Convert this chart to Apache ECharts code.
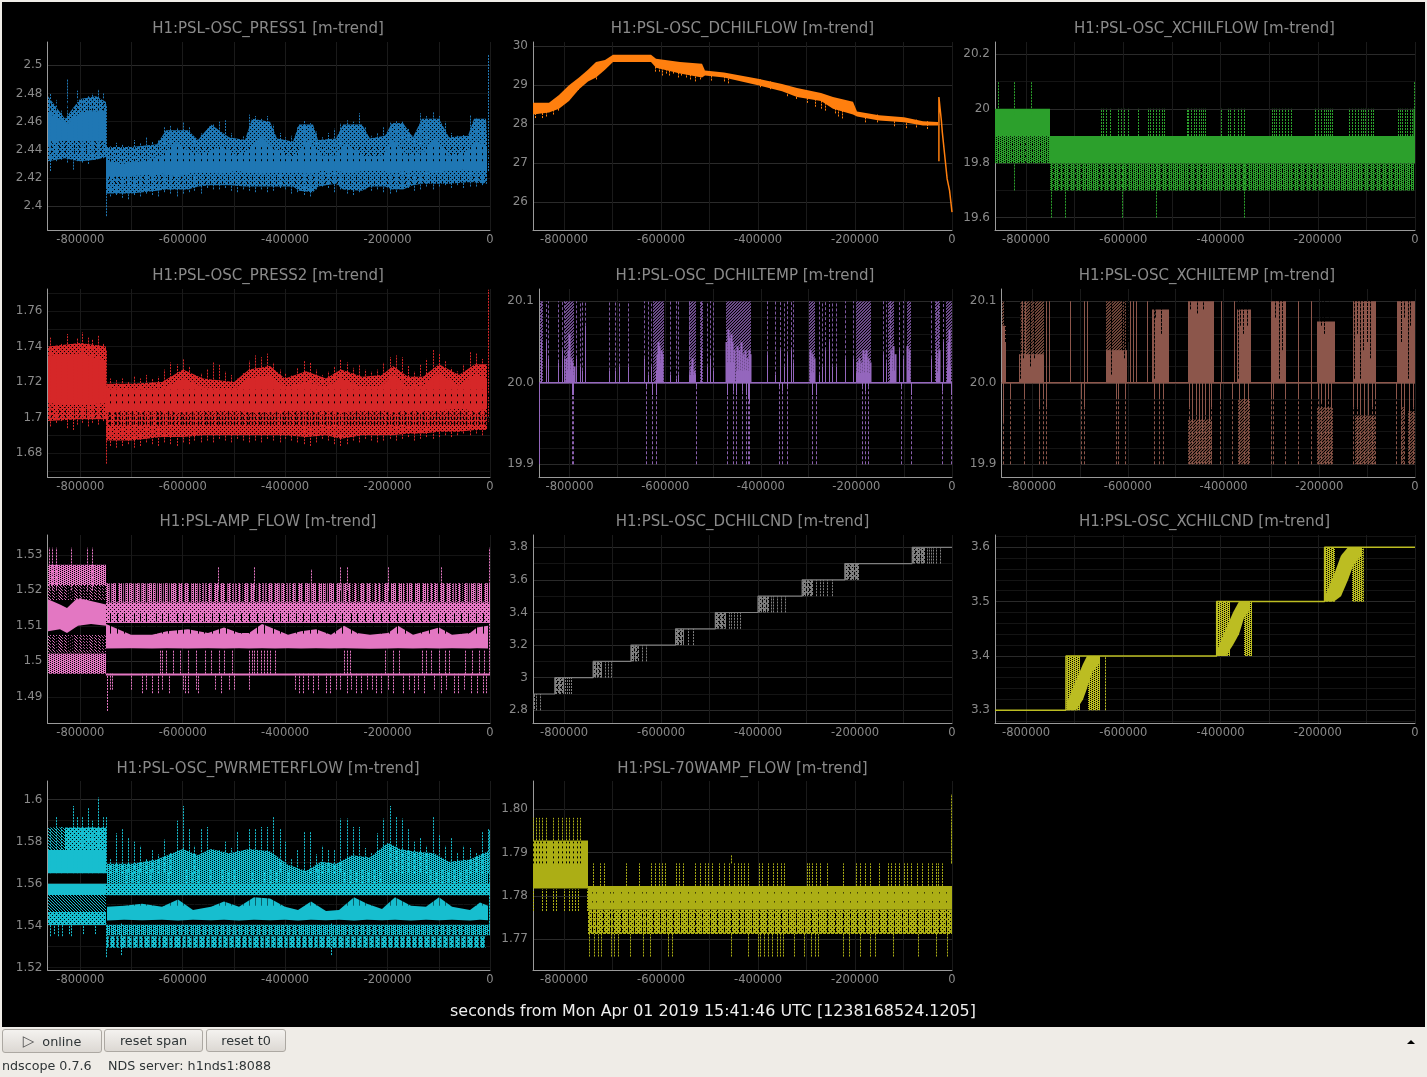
<!DOCTYPE html>
<html><head><meta charset="utf-8">
<style>
html,body{margin:0;padding:0;width:1427px;height:1077px;background:#efece7;overflow:hidden;font-family:"DejaVu Sans",sans-serif;}
#c{position:absolute;left:0;top:0;width:1427px;height:1077px;}
.b{position:absolute;box-sizing:border-box;border:1px solid #aca8a2;border-radius:3px;background:linear-gradient(#f4f2ef,#dcd8d3);font-size:12.8px;color:#2e3436;text-align:center;line-height:21px;}
.f{position:absolute;font-size:12.7px;color:#2e3436;top:1058px;line-height:16px;}
</style>
<script src="https://cdn.jsdelivr.net/npm/echarts@6/dist/echarts.min.js"></script>
</head><body>
<div id="c"></div>
<div class="b" style="left:2px;top:1029px;width:100px;height:24px;line-height:23px"><span style="color:#555;font-size:15px;position:relative;top:0px">▷</span>&nbsp; online</div>
<div class="b" style="left:104px;top:1029px;width:99px;height:23px;">reset span</div>
<div class="b" style="left:206px;top:1029px;width:80px;height:23px;">reset t0</div>
<div class="f" style="left:2px">ndscope 0.7.6</div>
<div class="f" style="left:108px">NDS server: h1nds1:8088</div>
<div style="position:absolute;left:1407px;top:1040px;width:0;height:0;border-left:4px solid transparent;border-right:4px solid transparent;border-bottom:4px solid #000"></div>
<script>
// ---- chart text
const panelTitles=["H1:PSL-OSC_PRESS1 [m-trend]","H1:PSL-OSC_DCHILFLOW [m-trend]","H1:PSL-OSC_XCHILFLOW [m-trend]","H1:PSL-OSC_PRESS2 [m-trend]","H1:PSL-OSC_DCHILTEMP [m-trend]","H1:PSL-OSC_XCHILTEMP [m-trend]","H1:PSL-AMP_FLOW [m-trend]","H1:PSL-OSC_DCHILCND [m-trend]","H1:PSL-OSC_XCHILCND [m-trend]","H1:PSL-OSC_PWRMETERFLOW [m-trend]","H1:PSL-70WAMP_FLOW [m-trend]"];
const xAxisTitle="seconds from Mon Apr 01 2019 15:41:46 UTC [1238168524.1205]";
const xLabelTicks=[-800000,-600000,-400000,-200000,0];
const xGridTicks=[-800000,-700000,-600000,-500000,-400000,-300000,-200000,-100000,0];

// ---- shared sample times, in thousands of seconds
const burstT=[-860,-848,-838,-826,-815,-806,-796,-785,-777,-765,-756,-750,-742,-730,-718,
-706,-695,-683,-672,-660,-648,-636,-625,-612,-600,-588,-577,-565,-553,-541,
-529,-518,-506,-494,-482,-470,-459,-447,-435,-423,-411,-400,-388,-376,-364,
-352,-340,-328,-316,-304,-292,-280,-268,-256,-244,-232,-220,-208,-196,-184,
-172,-160,-148,-136,-124,-112,-100,-88,-76,-64,-52,-40,-28,-16,-4];
const gapT=[-857,-842,-829,-812,-803,-788,-772,-760,-744,-733,-725,-711,-699,-688,-677,-664,-651,-642,-629,-618,-604,-593,-582,-570,-557,-546,-534,-523,-511,-499,-487,-475,-464,-452,-441,-429,-417,-405,-394,-381,-370,-358,-346,-335,-322,-310,-298,-286,-274,-262,-250,-238,-226,-214,-202,-190,-178,-166,-154,-142,-130,-118,-106,-94,-82,-70,-58,-46,-34,-22,-10];

// ---- PRESS1
const press1OuterT=[-864,-830,-800,-770,-750,-750,-700,-650,-632,-590,-570,-545,-510,-478,-465,-430,-415,-385,-372,-345,-335,-300,-288,-250,-235,-205,-192,-170,-150,-132,-100,-80,-42,-32,-8,-5];
const press1OuterHi=[2.478,2.462,2.476,2.478,2.474,2.442,2.442,2.444,2.454,2.454,2.447,2.458,2.449,2.447,2.462,2.46,2.448,2.446,2.458,2.458,2.447,2.448,2.458,2.458,2.448,2.45,2.459,2.459,2.449,2.462,2.462,2.449,2.45,2.462,2.462,2.45];
const press1OuterLo=[2.432,2.434,2.432,2.433,2.435,2.409,2.409,2.411,2.412,2.412,2.414,2.415,2.415,2.414,2.414,2.414,2.414,2.414,2.411,2.41,2.414,2.416,2.412,2.411,2.414,2.414,2.412,2.412,2.415,2.416,2.416,2.416,2.417,2.417,2.416,2.416];
const press1CoreT=[-864,-840,-825,-810,-780,-750,-750,-720,-680,-640,-612,-580,-552,-525,-495,-470,-448,-420,-385,-355,-330,-300,-280,-245,-210,-190,-160,-130,-105,-80,-50,-25,-5];
const press1CoreHi=[2.466,2.462,2.458,2.464,2.467,2.468,2.432,2.43,2.432,2.436,2.445,2.437,2.438,2.443,2.436,2.44,2.45,2.44,2.435,2.447,2.436,2.436,2.444,2.435,2.436,2.447,2.436,2.438,2.448,2.436,2.438,2.446,2.442];
const press1CoreLo=[2.444,2.446,2.447,2.447,2.446,2.447,2.42,2.421,2.422,2.423,2.421,2.424,2.424,2.423,2.425,2.424,2.423,2.424,2.424,2.423,2.425,2.425,2.424,2.425,2.425,2.424,2.425,2.425,2.424,2.425,2.426,2.425,2.425];
const press1TipHi=[2.48,2.476,2.468,2.49,2.47,2.482,2.475,2.478,2.48,2.483,2.48,2.472,2.443,2.445,2.444,
2.443,2.447,2.445,2.449,2.446,2.447,2.456,2.457,2.456,2.46,2.456,2.449,2.452,2.455,2.458,
2.46,2.461,2.452,2.448,2.45,2.465,2.464,2.462,2.464,2.458,2.452,2.449,2.45,2.456,2.461,
2.459,2.453,2.449,2.452,2.455,2.459,2.461,2.46,2.466,2.456,2.45,2.452,2.456,2.46,2.461,
2.46,2.455,2.451,2.466,2.464,2.467,2.464,2.46,2.452,2.45,2.451,2.465,2.463,2.46,2.508];
const press1TipLo=[2.425,2.432,2.433,2.431,2.426,2.432,2.431,2.43,2.433,2.434,2.434,2.393,2.407,2.408,2.406,
2.405,2.408,2.407,2.409,2.408,2.407,2.41,2.409,2.407,2.409,2.41,2.411,2.409,2.413,2.412,
2.412,2.413,2.411,2.41,2.412,2.411,2.41,2.412,2.41,2.411,2.413,2.412,2.409,2.41,2.408,
2.407,2.412,2.414,2.413,2.41,2.412,2.409,2.408,2.41,2.412,2.411,2.412,2.41,2.409,2.41,
2.412,2.413,2.411,2.412,2.414,2.412,2.414,2.415,2.413,2.415,2.413,2.414,2.414,2.415,2.425];

// ---- PRESS2
const press2T=[-864,-800,-750,-750,-700,-640,-600,-560,-500,-470,-430,-400,-360,-320,-290,-250,-210,-190,-160,-130,-100,-60,-30,-5];
const press2OuterHi=[1.74,1.742,1.74,1.719,1.719,1.72,1.727,1.722,1.72,1.727,1.729,1.722,1.726,1.722,1.727,1.723,1.724,1.729,1.723,1.723,1.73,1.724,1.73,1.73];
const press2OuterLo=[1.698,1.699,1.699,1.687,1.687,1.689,1.689,1.69,1.69,1.69,1.69,1.69,1.689,1.69,1.688,1.69,1.69,1.69,1.691,1.691,1.692,1.692,1.693,1.693];
const press2CoreHi=[1.735,1.736,1.732,1.717,1.716,1.716,1.722,1.717,1.716,1.722,1.724,1.717,1.72,1.717,1.722,1.717,1.718,1.724,1.717,1.718,1.725,1.718,1.724,1.722];
const press2CoreLo=[1.708,1.707,1.708,1.703,1.704,1.704,1.703,1.704,1.704,1.703,1.703,1.704,1.704,1.704,1.703,1.704,1.704,1.703,1.704,1.704,1.704,1.705,1.704,1.705];
const press2TipHi=[1.745,1.741,1.742,1.747,1.74,1.745,1.748,1.745,1.744,1.746,1.742,1.738,1.722,1.721,1.722,
1.72,1.723,1.722,1.724,1.722,1.723,1.727,1.731,1.73,1.733,1.729,1.724,1.725,1.727,1.731,
1.73,1.726,1.724,1.722,1.725,1.732,1.735,1.734,1.736,1.731,1.727,1.725,1.724,1.728,1.732,
1.731,1.727,1.724,1.726,1.729,1.733,1.731,1.728,1.73,1.727,1.726,1.727,1.731,1.734,1.735,
1.734,1.729,1.726,1.73,1.733,1.738,1.736,1.732,1.728,1.726,1.73,1.737,1.736,1.733,1.772];
const press2TipLo=[1.695,1.697,1.698,1.694,1.693,1.696,1.697,1.695,1.697,1.696,1.698,1.674,1.684,1.683,1.684,
1.685,1.683,1.684,1.686,1.685,1.684,1.686,1.685,1.684,1.686,1.685,1.687,1.686,1.687,1.686,
1.688,1.687,1.686,1.688,1.687,1.686,1.687,1.686,1.688,1.687,1.686,1.688,1.687,1.686,1.685,
1.684,1.686,1.688,1.687,1.685,1.684,1.685,1.687,1.686,1.688,1.687,1.686,1.687,1.688,1.687,
1.688,1.689,1.687,1.688,1.689,1.688,1.689,1.69,1.689,1.69,1.691,1.69,1.691,1.69,1.697];

// ---- DCHILFLOW
const dflowT=[-864,-830,-810,-790,-770,-750,-735,-715,-700,-620,-610,-560,-515,-510,-470,-400,-350,-320,-270,-245,-205,-195,-150,-100,-60,-28];
const dflowLo=[28.25,28.3,28.4,28.6,28.9,29.1,29.2,29.4,29.6,29.6,29.45,29.3,29.2,29.25,29.2,29.0,28.85,28.7,28.6,28.4,28.25,28.2,28.1,28.05,27.97,27.97];
const dflowHi=[28.55,28.55,28.75,29.0,29.2,29.4,29.6,29.65,29.78,29.78,29.68,29.6,29.55,29.38,29.33,29.17,29.03,28.93,28.8,28.7,28.58,28.33,28.23,28.18,28.08,28.06];
const dflowEdgeT=[-860,-846,-838,-822,-812,-735,-722,-612,-604,-597,-590,-584,-576,-566,-558,-548,-540,-530,-520,-497,-470,-462,-395,-376,-340,-322,-300,-282,-270,-262,-242,-236,-226,-180,-155,-120,-95,-74,-52];
const dflowEdgeLo=[28.16,28.16,28.2,28.25,28.35,29.15,29.38,29.35,29.35,29.25,29.3,29.25,29.3,29.2,29.25,29.2,29.15,29.1,29.15,29.12,29.1,29.05,28.95,28.9,28.72,28.65,28.55,28.45,28.4,28.35,28.28,28.2,28.15,28.05,28.05,27.95,27.9,27.92,27.88];
const dflowTailT=[-27,-27,-22,-20,-15,-10,-5,0];
const dflowTailV=[27.05,28.7,28.1,27.8,27.2,26.6,26.3,25.75];

// ---- XCHILFLOW
const xflowTipT=[-857,-825,-790,-2,-1];
const xflowTipHi=[20.1,20.1,20.1,20.1,20.2];
const xflowLowT=[-825,-748,-720,-602,-532,-352];
const xflowLowLo=[19.7,19.6,19.6,19.6,19.6,19.6];
const xflowSparseT=[-645,-641,-635,-627,-610,-604,-598,-591,-570,-550,-545,-539,-533,-527,-520,-516,-470,-466,-460,-455,-450,-445,-440,-436,-431,-400,-385,-380,-372,-365,-358,-352,-295,-290,-285,-280,-274,-268,-262,-256,-205,-200,-194,-188,-184,-178,-174,-170,-135,-130,-124,-118,-112,-107,-102,-96,-90,-86,-35,-30,-26,-21,-16,-11,-6];

// ---- temperature panels
const dtempHatchStart=[-862,-809,-625,-550,-528,-473,-300,-201,-133,-95,-35,-12];
const dtempHatchEnd=[-856,-790,-603,-535,-520,-420,-287,-169,-122,-86,-25,0];
const dtempLumpStart=[-808,-796,-620,-611,-548,-473,-451,-298,-201,-128,-95,-31,-10];
const dtempLumpEnd=[-797,-788,-612,-604,-536,-455,-421,-288,-170,-118,-87,-26,-3];
const dtempLumpHi=[20.015,20.01,20.015,20.025,20.01,20.025,20.015,20.012,20.012,20.015,20.015,20.012,20.02];
const dtempPeakT=[-807,-804,-801,-798,-794,-790,-618,-615,-612,-609,-606,-547,-543,-539,-472,-469,-466,-463,-460,-457,-449,-445,-441,-437,-433,-429,-425,-422,-297,-293,-289,-199,-195,-191,-187,-183,-179,-175,-171,-127,-123,-119,-94,-90,-30,-27,-9,-6];
const dtempPeakHi=[20.03,20.04,20.06,20.03,20.025,20.02,20.035,20.05,20.045,20.04,20.035,20.02,20.03,20.015,20.05,20.065,20.055,20.06,20.05,20.04,20.045,20.04,20.05,20.035,20.04,20.03,20.04,20.035,20.04,20.035,20.03,20.025,20.03,20.025,20.04,20.035,20.04,20.03,20.025,20.04,20.045,20.035,20.045,20.04,20.035,20.04,20.05,20.065];
const dtempUpT=[-860,-849,-845,-824,-816,-812,-787,-779,-774,-768,-717,-704,-697,-678,-645,-637,-629,-590,-578,-573,-550,-526,-512,-507,-499,-386,-371,-360,-351,-346,-337,-333,-279,-272,-265,-258,-251,-243,-224,-208,-144,-138,-129,-110,-103,-44,-33,-30,-18];
const dtempUpMid=[20.05,20.05,20.03,20.025,20.04,20.03,20.03,20.02,20.015,20.07,20.015,20.015,20.02,20.02,20.03,20.01,20.02,20.01,20.005,20.01,20.01,20.04,20.02,20.03,20.015,20.035,20.01,20.04,20.02,20.035,20.04,20.025,20.01,20.02,20.04,20.05,20.02,20.02,20.03,20.03,20.035,20.025,20.03,20.04,20.03,20.03,20.04,20.03,20.05];
const dtempDownT=[-794,-793,-641,-627,-620,-535,-470,-458,-452,-440,-432,-427,-425,-362,-355,-345,-293,-284,-188,-182,-176,-107,-86,-20,-3];
const dtempDownMid=[19.985,19.985,19.995,19.985,19.985,19.995,19.985,19.99,19.985,19.99,19.985,19.98,19.975,19.995,19.99,19.995,19.985,19.985,19.995,19.99,19.995,19.995,19.985,19.99,19.985];
const xtempSolidStart=[-864,-828,-645,-550,-475,-372,-300,-205,-130,-38];
const xtempSolidEnd=[-855,-775,-602,-514,-420,-343,-270,-168,-82,0];
const xtempSolidHi=[20.07,20.035,20.04,20.09,20.1,20.09,20.1,20.075,20.1,20.1];
const xtempHatchStart=[-864,-826,-645];
const xtempHatchEnd=[-858,-775,-604];
const xtempCutT=[-856,-825,-819,-815,-805,-797,-636,-612,-607,-600,-546,-543,-530,-470,-456,-443,-370,-366,-360,-352,-292,-285,-278,-197,-190,-179,-128,-121,-114,-109,-101,-93,-30,-23,-15,-10];
const xtempCutLo=[20.05,20.005,20.03,20.005,20.02,20.03,20.01,20.04,20.03,20.05,20.005,20.08,20.06,20.09,20.085,20.09,20.005,20.07,20.06,20.07,20.08,20.005,20.04,20.07,20.06,20.08,20.005,20.06,20.005,20.04,20.05,20.03,20.05,20.08,20.005,20.07];
const xtempDownStart=[-475,-370,-205,-126,-30,-14];
const xtempDownEnd=[-424,-345,-172,-84,-22,0];
const xtempDownTop=[19.955,19.98,19.97,19.96,19.97,19.965];
const xtempSpikeUpT=[-822,-815,-771,-764,-720,-692,-686,-596,-590,-583,-560,-406,-378,-291,-245,-218];
const xtempSpikeDownT=[-861,-846,-818,-786,-778,-772,-698,-692,-625,-621,-606,-545,-534,-527,-472,-466,-458,-451,-445,-438,-431,-426,-408,-382,-368,-358,-349,-300,-296,-272,-245,-218,-203,-196,-189,-182,-175,-130,-122,-114,-106,-98,-90,-84,-40,-30,-22,-12,-4];
const xtempSpikeDownMid=[19.95,19.98,19.98,19.97,19.98,19.97,19.98,19.97,19.98,19.98,19.98,19.98,19.98,19.98,19.97,19.95,19.96,19.95,19.94,19.96,19.95,19.97,19.98,19.98,19.98,19.975,19.97,19.98,19.98,19.98,19.98,19.98,19.98,19.975,19.97,19.98,19.97,19.97,19.97,19.96,19.95,19.96,19.97,19.98,19.98,19.97,19.96,19.95,19.97];

// ---- AMP_FLOW
const ampCoreT=[-864,-840,-825,-805,-780,-750,-750,-700,-660,-630,-590,-550,-520,-490,-470,-445,-420,-395,-370,-340,-310,-285,-260,-235,-200,-180,-150,-125,-100,-75,-40,-25,-3];
const ampCoreHi=[1.5175,1.516,1.515,1.518,1.517,1.516,1.5105,1.5075,1.5075,1.5085,1.509,1.508,1.5095,1.508,1.508,1.5105,1.509,1.5075,1.5085,1.509,1.5075,1.51,1.508,1.5075,1.508,1.51,1.5075,1.5085,1.5095,1.5075,1.508,1.5095,1.51];
const ampCoreLo=[1.5085,1.509,1.508,1.51,1.5105,1.51,1.5036,1.5037,1.5036,1.5037,1.5036,1.5037,1.5036,1.5037,1.5036,1.5037,1.5036,1.5037,1.5036,1.5037,1.5036,1.5037,1.5036,1.5035,1.5036,1.5037,1.5036,1.5037,1.5036,1.5037,1.5036,1.5037,1.5036];
const ampTipT=[-861,-856,-848,-818,-786,-778,-532,-460,-350,-292,-280,-200,-95,-1];
const ampTipHi=[1.532,1.532,1.532,1.532,1.532,1.532,1.5265,1.5265,1.526,1.5265,1.5265,1.5265,1.5265,1.532];
const ampHighCutT=[-742,-728,-714,-695,-683,-671,-653,-641,-628,-612,-600,-586,-571,-558,-543,-530,-515,-500,-486,-470,-455,-441,-424,-410,-395,-378,-365,-352,-338,-320,-303,-289,-272,-259,-244,-229,-212,-198,-181,-165,-150,-134,-120,-102,-88,-71,-57,-42,-28,-14];
const ampBeforeCutT=[-858,-850,-845,-833,-826,-822,-818,-814,-805,-797,-790,-784,-776,-768,-760,-754];
const ampSparseT=[-645,-640,-632,-618,-606,-590,-574,-556,-545,-530,-520,-503,-470,-465,-460,-455,-448,-442,-436,-430,-420,-285,-280,-274,-205,-190,-178,-132,-124,-115,-100,-88,-80,-48,-35,-22,-12];
const ampLowT=[-748,-742,-738,-700,-680,-672,-660,-648,-640,-626,-600,-596,-590,-575,-570,-536,-525,-510,-500,-470,-380,-372,-365,-355,-345,-336,-320,-312,-300,-292,-280,-272,-262,-252,-240,-230,-222,-212,-200,-190,-170,-158,-148,-140,-128,-110,-95,-85,-70,-62,-50,-38,-26,-14,-8];
const ampLowLo=[1.486,1.492,1.492,1.492,1.491,1.492,1.491,1.491,1.492,1.491,1.492,1.491,1.491,1.492,1.491,1.492,1.491,1.492,1.492,1.492,1.492,1.491,1.491,1.492,1.491,1.492,1.491,1.491,1.492,1.492,1.491,1.492,1.491,1.491,1.492,1.492,1.491,1.491,1.492,1.491,1.491,1.492,1.491,1.492,1.491,1.492,1.491,1.492,1.491,1.491,1.492,1.491,1.491,1.491,1.491];

// ---- DCHILCND
const dcndStepT=[-864,-819,-819,-740,-740,-662,-662,-570,-570,-488,-488,-400,-400,-309,-309,-221,-221,-82,-82,0];
const dcndStepV=[2.9,2.9,3,3,3.1,3.1,3.2,3.2,3.3,3.3,3.4,3.4,3.5,3.5,3.6,3.6,3.7,3.7,3.8,3.8];
const dcndBlockStart=[-864,-819,-740,-662,-570,-488,-400,-309,-221,-82];
const dcndBlockEnd=[-860,-800,-722,-645,-552,-465,-378,-287,-192,-55];
const dcndBlockLo=[2.8,2.9,3,3.1,3.2,3.3,3.4,3.5,3.6,3.7];
const dcndSpikeT=[-857,-850,-797,-793,-790,-785,-716,-710,-703,-640,-632,-545,-535,-460,-455,-450,-443,-438,-374,-370,-360,-353,-345,-280,-273,-265,-258,-248,-52,-48,-44,-40,-32,-25];
const dcndSpikeLo=[2.8,2.8,2.9,2.9,2.9,2.9,3,3,3,3.1,3.1,3.2,3.2,3.3,3.3,3.3,3.3,3.3,3.4,3.4,3.4,3.4,3.4,3.5,3.5,3.5,3.5,3.5,3.7,3.7,3.7,3.7,3.7,3.7];
const dcndCutT=[-814,-807,-734,-727,-656,-650,-563,-557,-481,-472,-392,-384,-302,-294,-213,-203,-76,-67];

// ---- XCHILCND
const xcndStepT=[-864,-718,-718,-408,-408,-186,-186,0];
const xcndStepV=[3.3,3.3,3.4,3.4,3.5,3.5,3.6,3.6];
const xcndBlockStart=[-718,-672,-408,-352,-186,-130];
const xcndBlockEnd=[-690,-649,-380,-335,-165,-108];
const xcndBlockLo=[3.3,3.3,3.4,3.4,3.5,3.5];
const xcndDiag1T=[-716,-698,-684,-675,-665,-650];
const xcndDiag1Lo=[3.3,3.3,3.32,3.34,3.37,3.385];
const xcndDiag1Hi=[3.315,3.355,3.385,3.4,3.4,3.4];
const xcndDiag2T=[-405,-388,-374,-362,-352,-340];
const xcndDiag2Lo=[3.4,3.4,3.42,3.44,3.47,3.485];
const xcndDiag2Hi=[3.415,3.45,3.48,3.5,3.5,3.5];
const xcndDiag3T=[-184,-166,-152,-138,-128,-112];
const xcndDiag3Lo=[3.5,3.5,3.51,3.54,3.565,3.585];
const xcndDiag3Hi=[3.515,3.55,3.585,3.6,3.6,3.6];
const xcndSpikeT=[-637,-341,-337,-111,-108];
const xcndSpikeLo=[3.3,3.4,3.4,3.5,3.5];

// ---- PWRMETERFLOW
const pwrUpT=[-748,-700,-650,-620,-600,-570,-545,-510,-470,-430,-395,-360,-330,-300,-270,-235,-200,-175,-150,-110,-80,-40,-3];
const pwrUpHi=[1.5695,1.5695,1.5715,1.5745,1.5765,1.5735,1.5765,1.5745,1.5765,1.5755,1.569,1.566,1.5705,1.5695,1.5735,1.5725,1.5795,1.5765,1.5755,1.5745,1.5705,1.5715,1.5755];
const pwrCoreT=[-748,-715,-680,-640,-610,-580,-545,-520,-490,-460,-430,-400,-375,-350,-320,-295,-265,-240,-210,-185,-155,-125,-100,-75,-40,-20,-3];
const pwrCoreHi=[1.549,1.5495,1.5505,1.549,1.5525,1.5475,1.549,1.5515,1.549,1.5535,1.553,1.549,1.5475,1.5515,1.547,1.5475,1.5535,1.5505,1.548,1.5535,1.5495,1.549,1.5535,1.549,1.5475,1.551,1.5495];
const pwrCoreLo=[1.5425,1.5428,1.5426,1.5428,1.5425,1.5428,1.5426,1.5428,1.5425,1.5428,1.5426,1.5428,1.5425,1.5428,1.5426,1.5428,1.5425,1.5428,1.5426,1.5428,1.5425,1.5428,1.5426,1.5428,1.5425,1.5428,1.5426];
const pwrTipHi=[1.586,1.592,1.587,1.586,1.597,1.592,1.592,1.596,1.59,1.601,1.592,1.592,1.572,1.584,1.586,
1.582,1.58,1.578,1.572,1.576,1.574,1.581,1.575,1.59,1.597,1.586,1.578,1.586,1.587,1.576,
1.576,1.58,1.577,1.585,1.575,1.586,1.586,1.587,1.587,1.592,1.586,1.58,1.572,1.576,1.585,
1.585,1.574,1.578,1.576,1.576,1.591,1.591,1.587,1.587,1.577,1.575,1.584,1.591,1.597,1.592,
1.591,1.586,1.58,1.582,1.578,1.592,1.583,1.578,1.582,1.575,1.578,1.577,1.575,1.585,1.586];
const pwrLowT=[-860,-852,-843,-836,-822,-818,-795,-772,-750,-721,-310];
const pwrLowLo=[1.535,1.536,1.535,1.535,1.536,1.535,1.536,1.536,1.525,1.526,1.526];

// ---- 70WAMP_FLOW
const wampTopT=[-864,-858,-852,-845,-838,-822,-812,-804,-796,-790,-782,-774,-768];
const wampBelowT=[-864,-845,-838,-822,-816,-800,-790,-784,-778,-772,-752];
const wampHighT=[-740,-725,-718,-672,-645,-620,-612,-605,-598,-592,-570,-562,-555,-530,-520,-510,-503,-495,-480,-470,-460,-450,-442,-436,-428,-420,-398,-392,-380,-370,-360,-352,-346,-300,-294,-288,-280,-272,-258,-225,-198,-190,-180,-170,-150,-132,-125,-118,-110,-100,-92,-85,-72,-62,-50,-42,-34,-28,-20];
const wampLowT=[-748,-738,-730,-724,-704,-696,-688,-665,-638,-622,-585,-578,-455,-420,-400,-395,-388,-380,-372,-360,-355,-348,-325,-305,-290,-282,-276,-224,-212,-190,-170,-158,-122,-70,-32,-10];
const wampTipT=[-456,-3,-2];
const wampTipHi=[1.7895,1.8035,1.797];
const flowCutT=[-742,-735,-720,-706,-700,-682,-668,-655,-640,-632,-616,-602,-590,-575,-560,-545,-530,-515,-500,-484,-470,-455,-440,-428,-412,-398,-382,-368,-352,-338,-322,-305,-290,-276,-258,-242,-225,-210,-195,-180,-165,-150,-134,-120,-104,-90,-72,-58,-42,-26,-12];

// ---- grid line values
const yMinor=[
 [2.4,2.42,2.44,2.46,2.48,2.5],[26,27,28,29,30],[19.6,19.7,19.8,19.9,20,20.1,20.2],
 [1.67,1.68,1.69,1.7,1.71,1.72,1.73,1.74,1.75,1.76,1.77],[19.9,19.92,19.94,19.96,19.98,20,20.02,20.04,20.06,20.08,20.1],[19.9,19.92,19.94,19.96,19.98,20,20.02,20.04,20.06,20.08,20.1],
 [1.49,1.5,1.51,1.52,1.53],[2.8,2.9,3,3.1,3.2,3.3,3.4,3.5,3.6,3.7,3.8],[3.28,3.3,3.32,3.34,3.36,3.38,3.4,3.42,3.44,3.46,3.48,3.5,3.52,3.54,3.56,3.58,3.6,3.62],
 [1.52,1.53,1.54,1.55,1.56,1.57,1.58,1.59,1.6],[1.77,1.78,1.79,1.8]];
const yBright=[[2.4,2.5],[26,27,28,29,30],[19.6,19.8,20,20.2],[1.7],[19.9,20,20.1],[19.9,20,20.1],[1.5],[2.8,3,3.2,3.4,3.6,3.8],[3.3,3.4,3.5,3.6],[1.6],[1.77,1.78,1.79,1.8]];
const yLabels=[[2.4,2.42,2.44,2.46,2.48,2.5],[26,27,28,29,30],[19.6,19.8,20,20.2],[1.68,1.7,1.72,1.74,1.76],[19.9,20,20.1],[19.9,20,20.1],[1.49,1.5,1.51,1.52,1.53],[2.8,3,3.2,3.4,3.6,3.8],[3.3,3.4,3.5,3.6],[1.52,1.54,1.56,1.58,1.6],[1.77,1.78,1.79,1.8]];
const yDecimals=[null,null,null,null,1,1,null,null,null,null,2];
const yMin=[2.3832,25.29,19.555,1.6665,19.8844,19.8844,1.4826,2.722,3.2766,1.5189,1.7629];
const yMax=[2.5165,30.11,20.245,1.7724,20.115,20.115,1.5356,3.8755,3.6226,1.6089,1.8065];

// ---- plot frames
const frames=[[47.5,42,490,230],[533,42,952,230],[995,42,1415,230],
 [47.5,289,490,477],[539,289,952,477],[1001.5,289,1415,477],
 [47.5,535,490,723],[533,535,952,723],[995,535,1415,723],
 [47.5,781,490,970],[533,781,952,970]];
const titleX=[268,742.5,1204.5,268,745,1207,268,742.5,1204.5,268,742.5];
const titleY=[27,27,27,274,274,274,520,520,520,767,767];
const colors=["#1f77b4","#ff7f0e","#2ca02c","#d62728","#9467bd","#8c564b","#e377c2","#7f7f7f","#bcbd22","#17becf","#acae15"];

// ---- helpers
const K=1000;
const tileCache={};
const tiles={dense:["1111","1101","1111","0111"],speck:["1101","0111","1101","0111"],hatch:["100","010","001"],mesh:["110","101","011"]};
function tile(color,kind){
  const key=color+kind; if(tileCache[key]) return tileCache[key];
  const rows=tiles[kind],c=document.createElement('canvas');c.width=rows[0].length;c.height=rows.length;
  const g=c.getContext('2d');g.fillStyle=color;
  rows.forEach((r,y)=>[...r].forEach((v,x)=>{if(v==='1')g.fillRect(x,y,1,1);}));
  return tileCache[key]={image:c,repeat:'repeat'};
}
const at=(v,i)=>Array.isArray(v)?v[i]:v;
const series=[];
function addPoly(g,rows,color,kind,z){
  const fill=kind==='solid'?color:tile(color,kind);
  series.push({type:'custom',xAxisIndex:g,yAxisIndex:g*2,silent:true,z:z||2,clip:true,animation:false,data:rows,
    encode:{x:[0,3],y:[1,2,4,5]},
    renderItem(p,api){
      const a=api.coord([api.value(0),api.value(1)]),b=api.coord([api.value(0),api.value(2)]),
            c=api.coord([api.value(3),api.value(5)]),d=api.coord([api.value(3),api.value(4)]);
      const xa=Math.round(a[0]),xc=Math.round(c[0]);
      return {type:'polygon',silent:true,shape:{points:[[xa,a[1]],[xa,b[1]],[xc,c[1]],[xc,d[1]]]},style:{fill}};
    }});
}
function band(g,t,lo,hi,color,kind,z){
  const rows=[];
  for(let i=0;i+1<t.length;i++) rows.push([t[i]*K,at(lo,i),at(hi,i),t[i+1]*K,at(lo,i+1),at(hi,i+1)]);
  addPoly(g,rows,color,kind,z);
}
function blocks(g,s,e,lo,hi,color,kind,z){
  addPoly(g,s.map((x,i)=>[x*K,at(lo,i),at(hi,i),e[i]*K,at(lo,i),at(hi,i)]),color,kind,z);
}
function spikes(g,t,lo,hi,color,w,dash,z){
  series.push({type:'custom',xAxisIndex:g,yAxisIndex:g*2,silent:true,z:z||3,clip:true,animation:false,
    data:t.map((x,i)=>[x*K,at(lo,i),at(hi,i)]),encode:{x:0,y:[1,2]},
    renderItem(p,api){
      const a=api.coord([api.value(0),api.value(1)]),b=api.coord([api.value(0),api.value(2)]);
      const x=Math.round(a[0])+0.5;
      return {type:'line',silent:true,shape:{x1:x,y1:a[1],x2:x,y2:b[1]},style:{stroke:color,lineWidth:w,lineDash:dash||null}};
    }});
}
function line(g,t,v,color,w,z){
  series.push({type:'line',xAxisIndex:g,yAxisIndex:g*2,showSymbol:false,silent:true,z:z||4,clip:true,animation:false,
    lineStyle:{color,width:w},data:t.map((x,i)=>[x*K,v[i]])});
}
const BLACK='#000';
const D=[2,1];
const after=a=>a.filter(t=>t>-748);

// PRESS1 (0)
let c=colors[0];
band(0,press1OuterT,press1OuterLo,press1OuterHi,c,'dense');
band(0,press1CoreT,press1CoreLo,press1CoreHi,c,'solid');
spikes(0,burstT,press1TipLo,press1TipHi,c,1,D);
spikes(0,after(gapT),2.416,2.423,BLACK,1,[2,3]);
spikes(0,after(burstT),2.432,2.444,BLACK,1,[2,4]);
spikes(0,gapT.filter(t=>t<-750),2.438,2.446,BLACK,1,[2,3]);
spikes(0,burstT.filter(t=>t<-750),2.468,2.476,BLACK,1,[2,3]);
// DCHILFLOW (1)
c=colors[1];
band(1,dflowT,dflowLo,dflowHi,c,'solid');
spikes(1,dflowEdgeT,dflowEdgeLo,dflowEdgeLo.map(v=>v+0.2),c,1,D);
line(1,dflowTailT,dflowTailV,c,1.5);
// XCHILFLOW (2)
c=colors[2];
band(2,[-864,-750],19.9,20,c,'solid');
band(2,[-864,-750],19.8,19.9,c,'speck');
band(2,[-750,0],19.8,19.9,c,'solid');
band(2,[-750,-3],19.7,19.8,c,'speck');
spikes(2,xflowSparseT,19.9,20,c,1,D);
spikes(2,after(gapT),19.7,19.795,BLACK,1,[4,2]);
spikes(2,gapT.filter(t=>t<-750),19.8,19.89,BLACK,1,[2,4]);
spikes(2,xflowTipT,19.98,xflowTipHi,c,1,D);
spikes(2,xflowLowT,xflowLowLo,19.8,c,1,D);
spikes(2,[-2,-1],19.85,20,c,2);
// PRESS2 (3)
c=colors[3];
band(3,press2T,press2OuterLo,press2OuterHi,c,'dense');
band(3,press2T,press2CoreLo,press2CoreHi,c,'solid');
spikes(3,burstT,press2TipLo,press2TipHi,c,1,D);
spikes(3,after(gapT),1.696,1.703,BLACK,1.5,[3,2]);
spikes(3,after(burstT),1.696,1.702,BLACK,1,[3,2]);
spikes(3,after(burstT),1.708,1.716,BLACK,1,[2,5]);
spikes(3,gapT.filter(t=>t<-750),1.7,1.706,BLACK,1,[2,3]);
// DCHILTEMP (4)
c=colors[4];
blocks(4,dtempHatchStart,dtempHatchEnd,20,20.1,'#6c4b8a','mesh');
blocks(4,dtempLumpStart,dtempLumpEnd,20,dtempLumpHi,c,'solid');
spikes(4,dtempPeakT,20,dtempPeakHi,c,2);
spikes(4,dtempUpT,dtempUpMid,20.1,'#7d58a0',1,[3,2]);
spikes(4,dtempUpT,20,dtempUpMid,c,1);
spikes(4,dtempDownT,19.9,dtempDownMid,'#8a60ad',1,[3,2]);
spikes(4,dtempDownT,dtempDownMid,20,c,1);
spikes(4,[-864],19.9,20,c,1);
line(4,[-864,0],[20,20],c,1.5);
// XCHILTEMP (5)
c=colors[5];
blocks(5,xtempHatchStart,xtempHatchEnd,20,20.1,'#6e4438','mesh');
blocks(5,xtempSolidStart,xtempSolidEnd,20,xtempSolidHi,c,'solid');
spikes(5,xtempCutT,xtempCutLo,20.1,BLACK,1,[3,1]);
spikes(5,xtempSpikeUpT,20,20.1,c,1);
blocks(5,xtempDownStart,xtempDownEnd,19.9,xtempDownTop,'#6e4438','mesh');
spikes(5,xtempSpikeDownT,19.9,xtempSpikeDownMid,c,1,[3,2]);
spikes(5,xtempSpikeDownT,xtempSpikeDownMid,20,c,1);
line(5,[-864,0],[20,20],c,1.5);
// AMP_FLOW (6)
c=colors[6];
band(6,[-864,-750],1.5215,1.5272,c,'speck');
band(6,[-864,-750],1.5173,1.5215,c,'hatch');
band(6,[-864,-750],1.5025,1.5074,c,'hatch');
band(6,[-864,-750],1.4965,1.5022,c,'speck');
band(6,[-750,0],1.5165,1.522,c,'speck');
band(6,[-750,0],1.5108,1.5165,c,'dense');
band(6,ampCoreT,ampCoreLo,ampCoreHi,c,'solid');
spikes(6,ampHighCutT,1.5168,1.5222,BLACK,1.5);
spikes(6,burstT.filter(t=>t>-748),1.5168,1.5222,BLACK,1);
spikes(6,ampHighCutT,1.5112,1.5135,BLACK,1);
spikes(6,ampHighCutT,1.5078,1.5102,BLACK,1);
spikes(6,ampBeforeCutT,1.5175,1.5212,BLACK,1.5);
spikes(6,ampBeforeCutT,1.5028,1.5072,BLACK,1.5);
spikes(6,ampTipT,1.52,ampTipHi,c,1,D);
spikes(6,ampSparseT,1.4965,1.5032,c,1,D);
spikes(6,ampLowT,ampLowLo,1.4965,c,1,D);
line(6,[-750,0],[1.4963,1.4963],c,2);
spikes(6,[-1],1.4965,1.522,c,1,D);
// DCHILCND (7)
c=colors[7];
blocks(7,dcndBlockStart,dcndBlockEnd,dcndBlockLo,dcndBlockLo.map(v=>v+0.1),c,'dense');
spikes(7,dcndCutT,dcndBlockLo.flatMap(v=>[v,v]).slice(2),dcndBlockLo.flatMap(v=>[v+0.1,v+0.1]).slice(2),BLACK,1,[3,2]);
spikes(7,dcndSpikeT,dcndSpikeLo,dcndSpikeLo.map(v=>v+0.1),c,1,D);
line(7,dcndStepT,dcndStepV,c,1.2);
// XCHILCND (8)
c=colors[8];
blocks(8,xcndBlockStart,xcndBlockEnd,xcndBlockLo,xcndBlockLo.map(v=>v+0.1),c,'speck');
band(8,xcndDiag1T,xcndDiag1Lo,xcndDiag1Hi,c,'solid');
band(8,xcndDiag2T,xcndDiag2Lo,xcndDiag2Hi,c,'solid');
band(8,xcndDiag3T,xcndDiag3Lo,xcndDiag3Hi,c,'solid');
spikes(8,xcndSpikeT,xcndSpikeLo,xcndSpikeLo.map(v=>v+0.1),c,1,D);
line(8,xcndStepT,xcndStepV,c,1.5);
// PWRMETERFLOW (9)
c=colors[9];
band(9,[-864,-750],1.565,1.576,c,'solid');
band(9,[-830,-750],1.576,1.5868,c,'dense');
band(9,[-864,-830],1.576,1.5868,c,'hatch');
band(9,[-864,-750],1.5546,1.56,c,'solid');
band(9,[-864,-750],1.5465,1.5546,c,'hatch');
band(9,[-864,-750],1.5403,1.5465,c,'dense');
band(9,pwrUpT,1.56,pwrUpHi,c,'speck');
band(9,[-750,0],1.5545,1.56,c,'dense');
band(9,pwrCoreT,pwrCoreLo,pwrCoreHi,c,'solid');
band(9,[-748,0],1.5355,1.5405,c,'speck');
band(9,[-748,-8],1.5295,1.535,c,'dense');
spikes(9,burstT,1.565,pwrTipHi,c,1,D);
spikes(9,after(gapT),1.5602,1.5665,c,1,D);
spikes(9,after(gapT),1.5297,1.535,BLACK,1.5);
spikes(9,after(burstT),1.5358,1.54,BLACK,1,[3,2]);
spikes(9,after(burstT),1.5495,1.5538,BLACK,0.5);
spikes(9,pwrLowT,pwrLowLo,1.541,c,1,D);
spikes(9,[-2,-1],1.54,1.5855,c,1,D);
// 70WAMP_FLOW (10)
c=colors[10];
band(10,[-864,-750],1.7817,1.7928,c,'solid');
spikes(10,wampTopT,1.7928,1.798,c,1,D);
spikes(10,wampTopT,1.7875,1.7925,BLACK,1,[2,3]);
spikes(10,wampBelowT,1.7765,1.7815,c,1,D);
band(10,[-750,-1],1.7768,1.7823,c,'solid');
band(10,[-750,-1],1.7712,1.7768,c,'dense');
spikes(10,flowCutT,1.7716,1.7768,BLACK,1,[5,2]);
spikes(10,flowCutT,1.7785,1.7822,BLACK,1,[1,8]);
spikes(10,wampHighT,1.7823,1.7875,c,1,D);
spikes(10,wampLowT,1.766,1.7712,c,1,D);
spikes(10,wampTipT,1.7875,wampTipHi,c,1,D);

// ---- axes
const grid=[],xAxis=[],yAxis=[],title=[];
const lbl='#8a8a8a',axc='#9a9a9a',FONT='"DejaVu Sans"';
frames.forEach((f,i)=>{
  grid.push({left:f[0],top:f[1],width:f[2]-f[0],height:f[3]-f[1],containLabel:false});
  xAxis.push({type:'value',gridIndex:i,min:-864000,max:0,
    axisLine:{show:true,onZero:false,lineStyle:{color:axc,width:1}},
    axisTick:{show:false,customValues:xGridTicks},
    axisLabel:{color:lbl,fontFamily:FONT,fontSize:11.5,margin:4,customValues:xLabelTicks,formatter:v=>String(v)},
    splitLine:{show:true,lineStyle:{color:'#1a1a1a',width:1}}});
  const d=yDecimals[i];
  yAxis.push({type:'value',gridIndex:i,min:yMin[i],max:yMax[i],
    axisLine:{show:true,onZero:false,lineStyle:{color:axc,width:1}},
    axisTick:{show:false,customValues:yMinor[i]},
    axisLabel:{color:lbl,fontFamily:FONT,fontSize:12,margin:5,padding:[2,0,0,0],customValues:yLabels[i],formatter:v=>d==null?String(+v.toFixed(4)):v.toFixed(d)},
    splitLine:{show:true,lineStyle:{color:'#141414',width:1}}});
  yAxis.push({type:'value',gridIndex:i,min:yMin[i],max:yMax[i],
    axisLine:{show:false},axisTick:{show:false,customValues:yBright[i]},
    axisLabel:{show:false},
    splitLine:{show:true,lineStyle:{color:'#2a2a2a',width:1}}});
  title.push({text:panelTitles[i],left:titleX[i],top:titleY[i]-7,textAlign:'center',padding:0,
    textStyle:{color:'#8a8a8a',fontFamily:FONT,fontSize:15,fontWeight:'normal',lineHeight:18}});
});
title.push({text:xAxisTitle,left:713,top:1003,textAlign:'center',padding:0,textStyle:{color:'#eeeeee',fontFamily:FONT,fontSize:15.9,fontWeight:'normal',lineHeight:18}});

const chart=echarts.init(document.getElementById('c'),null,{renderer:'canvas',width:1427,height:1077});
chart.setOption({animation:false,backgroundColor:'transparent',title,grid,xAxis,yAxis,series,
  graphic:[{type:'rect',z:-10,silent:true,shape:{x:2,y:2,width:1423,height:1025},style:{fill:'#000'}}]});
</script>
</body></html>
